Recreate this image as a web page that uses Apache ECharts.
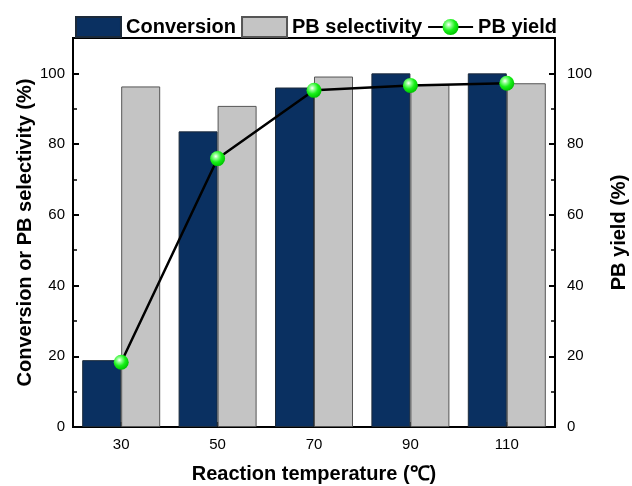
<!DOCTYPE html>
<html>
<head>
<meta charset="utf-8">
<script src="https://cdn.jsdelivr.net/npm/echarts@6/dist/echarts.min.js"></script>
<style>
  html, body { margin: 0; padding: 0; background: #fff; }
  #chart { width: 632px; height: 486px; }
</style>
</head>
<body>
<div id="chart"></div>
<script>
// Reaction temperatures (°C)
const temperatures = ['30', '50', '70', '90', '110'];
// Conversion (%)
const conversion = [18.9, 83.6, 96.0, 100.0, 100.0];
// PB selectivity (%)
const selectivity = [96.3, 90.8, 99.1, 96.8, 97.2];
// PB yield (%)
const pbYield = [18.3, 75.9, 95.2, 96.6, 97.2];

const FONT = '"Liberation Sans", Arial, sans-serif';

const chart = echarts.init(document.getElementById('chart'), null, { renderer: 'canvas' });

const greenBall = {
  type: 'radial', x: 0.38, y: 0.35, r: 0.65,
  colorStops: [
    { offset: 0, color: '#ffffff' },
    { offset: 0.25, color: '#8dff8d' },
    { offset: 0.6, color: '#19f019' },
    { offset: 1, color: '#00c800' }
  ]
};

const titleFont = { fontFamily: FONT, fontWeight: 'bold', fontSize: 20, color: '#000' };

function valueAxis(pos, name, nameGap, labelMargin) {
  return {
    type: 'value',
    position: pos,
    min: 0, max: 110, interval: 20,
    name: name,
    nameLocation: 'middle',
    nameGap: nameGap,
    nameMoveOverlap: false,
    nameTextStyle: titleFont,
    axisLine: { show: true, lineStyle: { color: '#000', width: 2 } },
    axisTick: { show: true, inside: true, length: 6, lineStyle: { color: '#000', width: 2 } },
    minorTick: { show: true, splitNumber: 2, length: 4, lineStyle: { color: '#000', width: 1.5 } },
    axisLabel: {
      fontFamily: FONT, fontSize: 15, color: '#000', margin: labelMargin,
      showMaxLabel: false,
      formatter: v => (v > 100 ? '' : String(v))
    },
    splitLine: { show: false }
  };
}

chart.setOption({
  animation: false,
  backgroundColor: '#fff',
  textStyle: { fontFamily: FONT },
  grid: {
    left: 73, right: 77, top: 38, bottom: 59,
    outerBoundsMode: 'none',
    containLabel: false,
    show: true, borderColor: '#000', borderWidth: 2, backgroundColor: 'transparent'
  },
  legend: {
    top: 11,
    left: 'center',
    itemGap: 5,
    itemWidth: 45,
    itemHeight: 20,
    textStyle: titleFont,
    data: [
      { name: 'Conversion', icon: 'rect' },
      { name: 'PB selectivity', icon: 'rect' },
      { name: 'PB yield' }
    ]
  },
  xAxis: {
    type: 'category',
    data: temperatures,
    name: 'Reaction temperature (℃)',
    nameLocation: 'middle',
    nameGap: 37,
    nameMoveOverlap: false,
    nameTextStyle: titleFont,
    axisLine: { lineStyle: { color: '#000', width: 2 } },
    axisTick: { show: true, inside: true, alignWithLabel: true, length: 5, lineStyle: { color: '#000', width: 2 } },
    axisLabel: { fontFamily: FONT, fontSize: 15, color: '#000', margin: 10 }
  },
  yAxis: [
    valueAxis('left', 'Conversion or PB selectivity (%)', 38, 8),
    valueAxis('right', 'PB yield (%)', 54, 12)
  ],
  series: [
    {
      name: 'Conversion',
      type: 'bar',
      data: conversion,
      barWidth: 39,
      barGap: '0%',
      itemStyle: { color: '#0a3061', borderColor: '#1c2a3a', borderWidth: 1 },
      z: 2
    },
    {
      name: 'PB selectivity',
      type: 'bar',
      data: selectivity,
      barWidth: 39,
      barGap: '0%',
      itemStyle: { color: '#c4c4c4', borderColor: '#555', borderWidth: 1 },
      z: 2
    },
    {
      name: 'PB yield',
      type: 'line',
      yAxisIndex: 1,
      data: pbYield,
      symbol: 'circle',
      symbolSize: 15,
      lineStyle: { color: '#000', width: 2.5 },
      itemStyle: { color: greenBall, borderWidth: 0 },
      z: 5
    }
  ]
});
</script>
</body>
</html>
